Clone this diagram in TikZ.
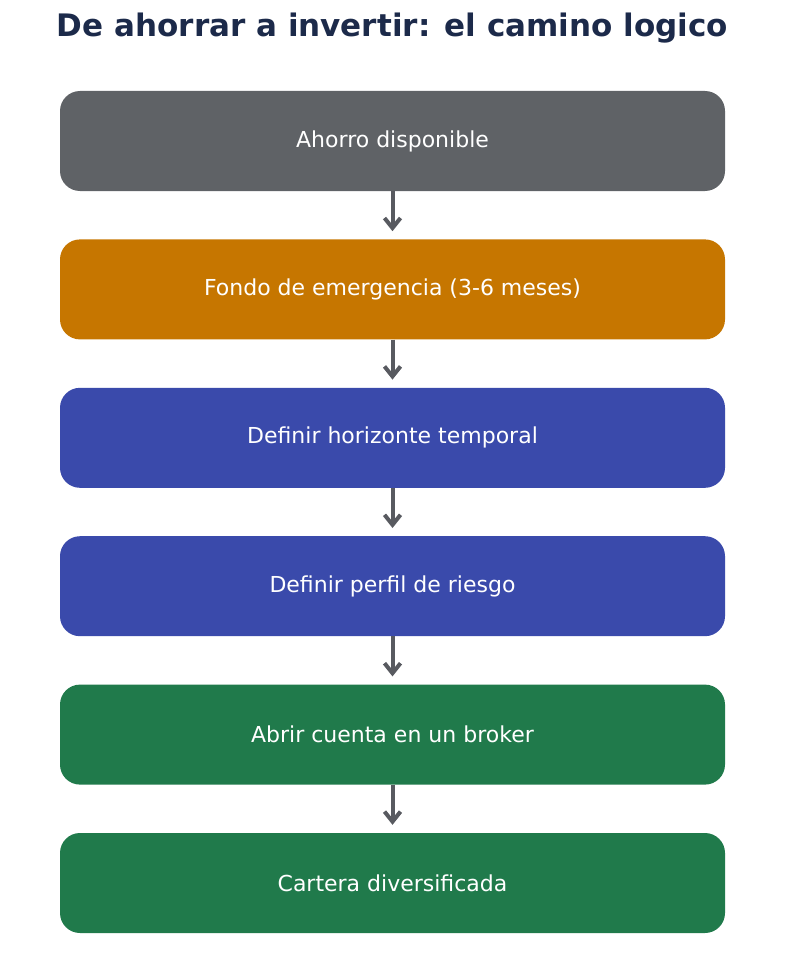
\documentclass[tikz,border=0pt]{standalone}
\usepackage{fontspec}
\setmainfont{DejaVu Sans}
\usetikzlibrary{positioning,arrows.meta}
\definecolor{stepgray}{HTML}{5F6266}
\definecolor{steporange}{HTML}{C67600}
\definecolor{stepblue}{HTML}{3A4AAB}
\definecolor{stepgreen}{HTML}{207A4B}
\definecolor{titlenavy}{HTML}{1C2A4A}
\definecolor{arrowgray}{HTML}{585A60}
\tikzset{
  stage/.style={draw=none, rounded corners=20pt, minimum width=665pt, minimum height=100pt,
    text=white, font=\fontsize{22pt}{26pt}\selectfont},
  link/.style={-{Straight Barb[length=10pt,width=16pt,line width=4pt]}, line width=4pt, arrowgray}
}
\begin{document}
\begin{tikzpicture}[x=1pt,y=1pt,node distance=48pt]
  \useasboundingbox (0,0) rectangle (785,-971);
  \node (title) [font=\bfseries\fontsize{31pt}{37pt}\selectfont, text=titlenavy] at (392.5,-28) {De ahorrar a invertir: el camino logico};
  \node (s1) [stage, fill=stepgray] at (392.5,-141) {Ahorro disponible};
  \node (s2) [stage, fill=steporange, below=of s1] {Fondo de emergencia (3-6 meses)};
  \node (s3) [stage, fill=stepblue, below=of s2] {Definir horizonte temporal};
  \node (s4) [stage, fill=stepblue, below=of s3] {Definir perfil de riesgo};
  \node (s5) [stage, fill=stepgreen, below=of s4] {Abrir cuenta en un broker};
  \node (s6) [stage, fill=stepgreen, below=of s5] {Cartera diversificada};
  \foreach \a/\b in {s1/s2,s2/s3,s3/s4,s4/s5,s5/s6}
    \draw [link] (\a.south) -- ([yshift=8pt]\b.north);
\end{tikzpicture}
\end{document}
